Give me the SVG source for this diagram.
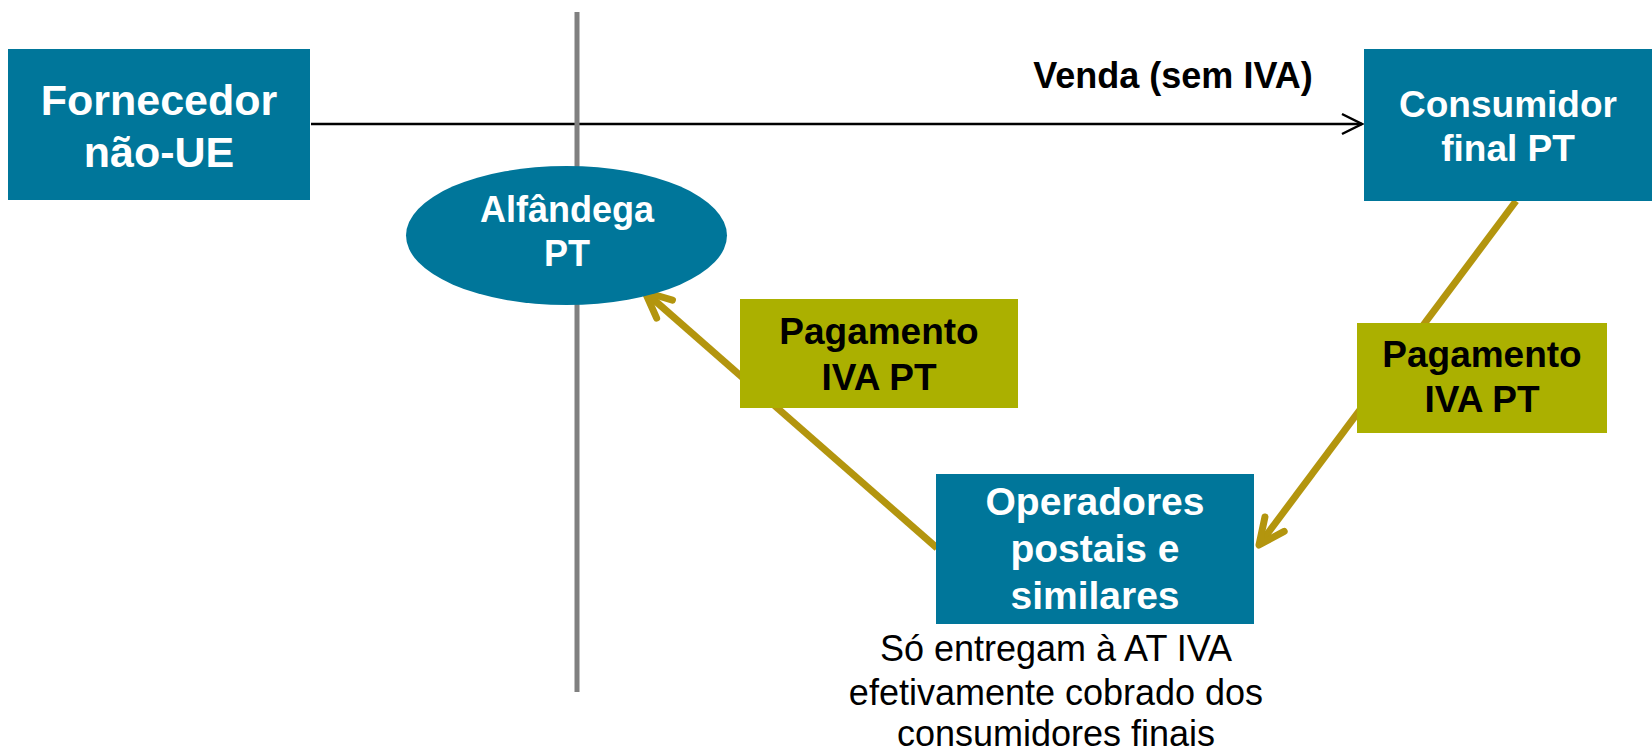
<svg xmlns="http://www.w3.org/2000/svg" width="1652" height="754" viewBox="0 0 1652 754">
<style>
.teal{fill:#00769A}
.olive{fill:#ABB000}
.wt{fill:#FFFFFF;font-family:"Liberation Sans",Arial,sans-serif;font-weight:bold;text-anchor:middle}
.bt{fill:#000000;font-family:"Liberation Sans",Arial,sans-serif;font-weight:bold;text-anchor:middle}
.note{fill:#000000;font-family:"Liberation Sans",Arial,sans-serif;font-size:36px;text-anchor:middle}
.pay{stroke:#B3950E;stroke-width:7;fill:none}
</style>
<defs>
<marker id="blackArrow" markerUnits="userSpaceOnUse" markerWidth="40" markerHeight="40" refX="0" refY="0" orient="auto" overflow="visible">
<path d="M-20,-10 L0,0 L-20,10" fill="none" stroke="#000" stroke-width="2.5" stroke-linejoin="miter"/>
</marker>
<marker id="oliveArrow" markerUnits="userSpaceOnUse" markerWidth="60" markerHeight="60" refX="0" refY="0" orient="auto" overflow="visible">
<path d="M-26,-12 L0,0 L-26,12" fill="none" stroke="#B3950E" stroke-width="7" stroke-linecap="round" stroke-linejoin="round"/>
</marker>
</defs>
<rect width="1652" height="754" fill="#FFFFFF"/>
<g id="connectors">
<line x1="311" y1="124" x2="1362" y2="124" stroke="#000" stroke-width="2.5" marker-end="url(#blackArrow)"/>
<line x1="577" y1="12" x2="577" y2="692" stroke="#808080" stroke-width="5"/>
<line class="pay" x1="937" y1="548" x2="645" y2="292" marker-end="url(#oliveArrow)"/>
<line class="pay" x1="1516" y1="201" x2="1259" y2="545" marker-end="url(#oliveArrow)"/>
<text class="bt" x="1173" y="88" font-size="36">Venda (sem IVA)</text>
</g>
<g id="fornecedor">
<rect class="teal" x="8" y="49" width="302" height="151"/>
<text class="wt" font-size="43" x="159" y="115">Fornecedor</text>
<text class="wt" font-size="43" x="159" y="167">não-UE</text>
</g>
<g id="consumidor">
<rect class="teal" x="1364" y="49" width="288" height="152"/>
<text class="wt" font-size="37" x="1508" y="117">Consumidor</text>
<text class="wt" font-size="37" x="1508" y="161">final PT</text>
</g>
<g id="alfandega">
<ellipse class="teal" cx="566.5" cy="235.5" rx="160.5" ry="69.5"/>
<text class="wt" font-size="36" x="567" y="222">Alfândega</text>
<text class="wt" font-size="36" x="567" y="266">PT</text>
</g>
<g id="pagamento1">
<rect class="olive" x="740" y="299" width="278" height="109"/>
<text class="bt" font-size="37" x="879" y="344">Pagamento</text>
<text class="bt" font-size="37" x="879" y="390">IVA PT</text>
</g>
<g id="pagamento2">
<rect class="olive" x="1357" y="323" width="250" height="110"/>
<text class="bt" font-size="37" x="1482" y="367">Pagamento</text>
<text class="bt" font-size="37" x="1482" y="412">IVA PT</text>
</g>
<g id="operadores">
<rect class="teal" x="936" y="474" width="318" height="150"/>
<text class="wt" font-size="39" x="1095" y="515">Operadores</text>
<text class="wt" font-size="39" x="1095" y="562">postais e</text>
<text class="wt" font-size="39" x="1095" y="609">similares</text>
</g>
<g id="nota">
<text class="note" x="1056" y="661">Só entregam à AT IVA</text>
<text class="note" x="1056" y="705">efetivamente cobrado dos</text>
<text class="note" x="1056" y="746">consumidores finais</text>
</g>
</svg>
